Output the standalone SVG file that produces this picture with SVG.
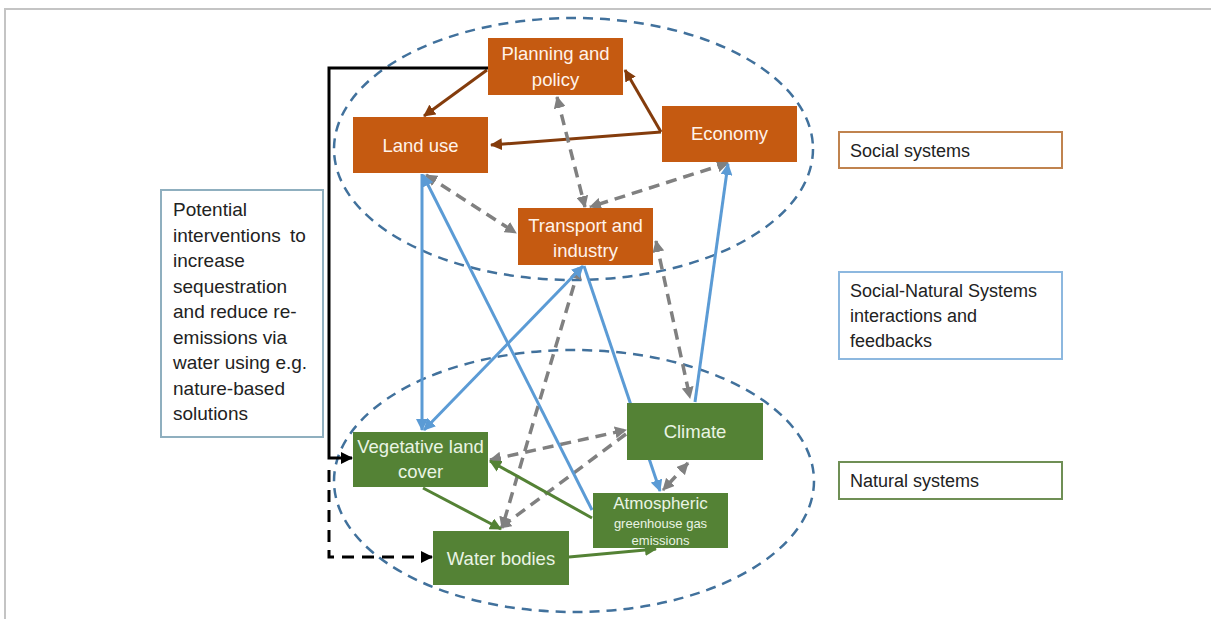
<svg xmlns="http://www.w3.org/2000/svg" width="1211" height="619" viewBox="0 0 1211 619">
<style>
text{font-family:"Liberation Sans",Arial,sans-serif}
.frame{stroke:#c4c4c4;stroke-width:2;fill:none}
.ell{fill:none;stroke:#41719C;stroke-width:2.5;stroke-dasharray:10 7}
.org rect{fill:#C55A11}
.org text{fill:#FFF3EA;font-size:18.5px;text-anchor:middle}
.grn rect{fill:#548235}
.grn text{fill:#EAF4E4;font-size:18.5px;text-anchor:middle}
.leg rect{fill:#fff;stroke-width:2}
.leg text{fill:#222;font-size:18px}
.br{stroke:#843C0C;stroke-width:3;fill:none;marker-end:url(#mBr)}
.gy{stroke:#808080;stroke-width:3.5;fill:none;stroke-dasharray:11 7;marker-start:url(#mGy);marker-end:url(#mGy)}
.gy1{stroke:#808080;stroke-width:3.5;fill:none;stroke-dasharray:11 7;marker-end:url(#mGy)}
.bl{stroke:#5B9BD5;stroke-width:3;fill:none}
.gn{stroke:#548235;stroke-width:3;fill:none;marker-end:url(#mGn)}
.bk{stroke:#000;stroke-width:3;fill:none;marker-end:url(#mBk)}
</style>
<defs>
<marker id="mBr" markerUnits="userSpaceOnUse" markerWidth="12" markerHeight="12" refX="11" refY="6" orient="auto-start-reverse"><path d="M0,0 L12,6 L0,12 z" fill="#843C0C"/></marker>
<marker id="mGy" markerUnits="userSpaceOnUse" markerWidth="12" markerHeight="12" refX="11" refY="6" orient="auto-start-reverse"><path d="M0,0 L12,6 L0,12 z" fill="#808080"/></marker>
<marker id="mBl" markerUnits="userSpaceOnUse" markerWidth="12" markerHeight="12" refX="11" refY="6" orient="auto-start-reverse"><path d="M0,0 L12,6 L0,12 z" fill="#5B9BD5"/></marker>
<marker id="mGn" markerUnits="userSpaceOnUse" markerWidth="12" markerHeight="12" refX="11" refY="6" orient="auto-start-reverse"><path d="M0,0 L12,6 L0,12 z" fill="#548235"/></marker>
<marker id="mBk" markerUnits="userSpaceOnUse" markerWidth="12" markerHeight="12" refX="11" refY="6" orient="auto-start-reverse"><path d="M0,0 L12,6 L0,12 z" fill="#000"/></marker>
</defs>
<rect width="1211" height="619" fill="#fff"/>
<path class="frame" d="M5,619 L5,9 L1211,9"/>
<g id="groups">
<ellipse class="ell" cx="573.5" cy="149" rx="239.5" ry="131"/>
<ellipse class="ell" cx="574" cy="481" rx="240" ry="131"/>
</g>
<g id="connectors">
<path class="br" d="M487,70 L424,116"/>
<path class="br" d="M661,132 L625,70"/>
<path class="br" d="M661,132 L491,145"/>
<path class="gy" d="M557,97 L585,207"/>
<path class="gy" d="M426,175 L516,233"/>
<path class="gy" d="M728,163 L590,207"/>
<path class="gy" d="M656,241 L690,398"/>
<path class="gy" d="M579,268 L502,528"/>
<path class="gy" d="M490,460 L626,430"/>
<path class="gy1" d="M626,434 L500,528"/>
<path class="gy" d="M688,463 L663,490"/>
<path class="bl" d="M422,174 L422,430" marker-end="url(#mBl)"/>
<path class="bl" d="M423,175 L592,510" marker-start="url(#mBl)"/>
<path class="bl" d="M583,266 L424,430" marker-start="url(#mBl)" marker-end="url(#mBl)"/>
<path class="bl" d="M584,266 L660,491" marker-end="url(#mBl)"/>
<path class="bl" d="M695,402 L728,164" marker-end="url(#mBl)"/>
<path class="gn" d="M423,488 L501,529"/>
<path class="gn" d="M592,518 L490,461"/>
<path class="gn" d="M569,557 L656,549"/>
<path class="bk" d="M488,68 L329,68 L329,458 L352,458"/>
<path class="bk" d="M329,470 L329,557 L432,557" stroke-dasharray="12 8"/>
</g>
<g id="planning" class="org"><rect x="488" y="38" width="135" height="57"/><text x="555.5" y="60">Planning and</text><text x="555.5" y="86">policy</text></g>
<g id="landuse" class="org"><rect x="353" y="117" width="135" height="56"/><text x="420.5" y="152">Land use</text></g>
<g id="economy" class="org"><rect x="662" y="106" width="135" height="56"/><text x="729.5" y="140">Economy</text></g>
<g id="transport" class="org"><rect x="518" y="208" width="135" height="57"/><text x="585.5" y="232">Transport and</text><text x="585.5" y="257">industry</text></g>
<g id="vegetative" class="grn"><rect x="353" y="432" width="135" height="55"/><text x="420.5" y="453">Vegetative land</text><text x="420.5" y="478">cover</text></g>
<g id="climate" class="grn"><rect x="627" y="403" width="136" height="57"/><text x="695" y="438">Climate</text></g>
<g id="atmospheric" class="grn"><rect x="593" y="493" width="135" height="55"/><text x="660.5" y="509" style="font-size:17px">Atmospheric</text><text x="660.5" y="528" style="font-size:13px">greenhouse gas</text><text x="660.5" y="545" style="font-size:13px">emissions</text></g>
<g id="water" class="grn"><rect x="433" y="531" width="136" height="54"/><text x="501" y="565">Water bodies</text></g>
<g id="interventions" class="leg"><rect x="161" y="190" width="162" height="247" stroke="#8FAFBF"/>
<text x="173" style="font-size:19px"><tspan x="173" y="216">Potential</tspan><tspan x="173" y="241.5" word-spacing="4">interventions to</tspan><tspan x="173" y="267">increase</tspan><tspan x="173" y="292.5">sequestration</tspan><tspan x="173" y="318">and reduce re-</tspan><tspan x="173" y="343.5">emissions via</tspan><tspan x="173" y="369">water using e.g.</tspan><tspan x="173" y="394.5">nature-based</tspan><tspan x="173" y="420">solutions</tspan></text></g>
<g id="social" class="leg"><rect x="839" y="132" width="223" height="36" stroke="#C0834F"/><text x="850" y="157">Social systems</text></g>
<g id="socialnatural" class="leg"><rect x="839" y="272" width="223" height="87" stroke="#8DB8DF"/><text x="850" y="297">Social-Natural Systems</text><text x="850" y="322">interactions and</text><text x="850" y="347">feedbacks</text></g>
<g id="natural" class="leg"><rect x="839" y="462" width="223" height="37" stroke="#6F8F55"/><text x="850" y="487">Natural systems</text></g>
</svg>
